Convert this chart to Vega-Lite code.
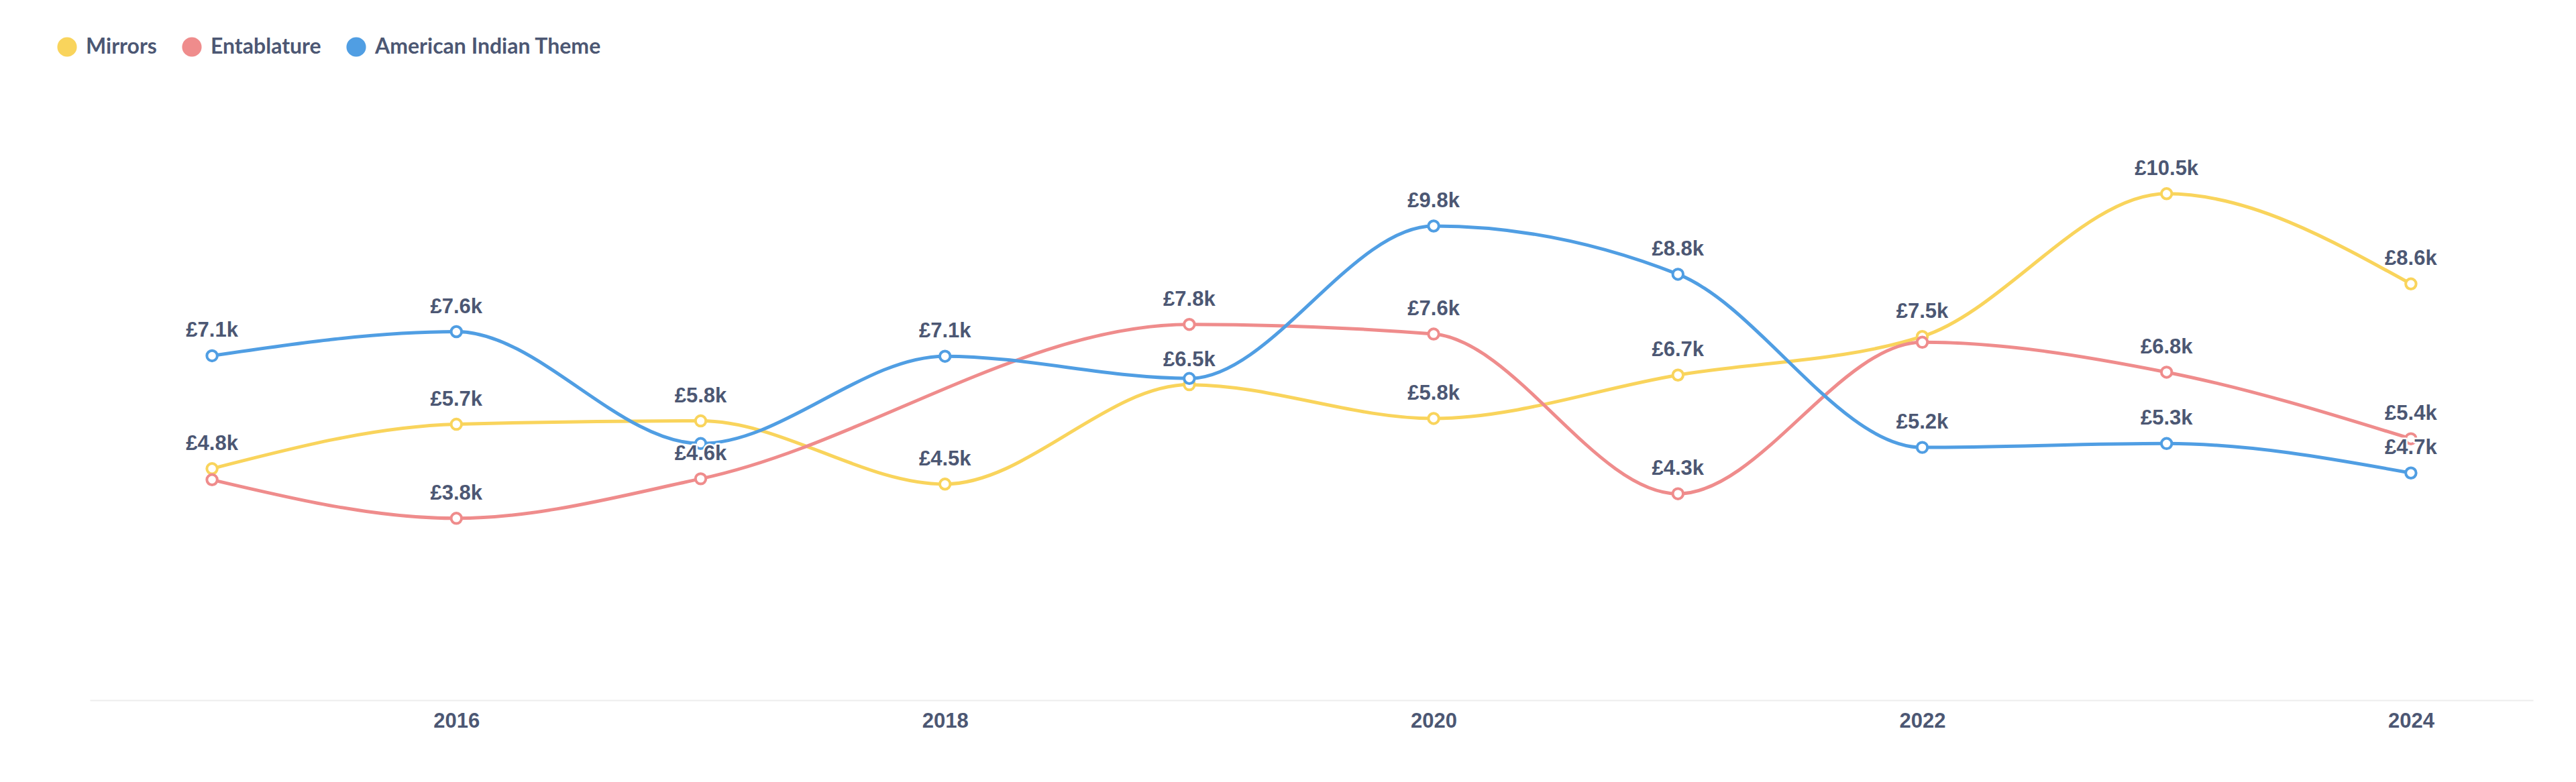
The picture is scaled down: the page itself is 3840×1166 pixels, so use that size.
{
  "$schema": "https://vega.github.io/schema/vega-lite/v6.json",
  "autosize": {"type": "none"},
  "width": 3642,
  "height": 935,
  "padding": {"left": 134, "top": 109, "right": 64, "bottom": 122},
  "background": "white",
  "config": {"view": {"stroke": null}},
  "data": {
    "values": [
      {"series": "Mirrors", "year": 2015, "value": 4800, "show": true},
      {"series": "Mirrors", "year": 2016, "value": 5720, "show": true},
      {"series": "Mirrors", "year": 2017, "value": 5790, "show": true},
      {"series": "Mirrors", "year": 2018, "value": 4480, "show": true},
      {"series": "Mirrors", "year": 2019, "value": 6540, "show": true},
      {"series": "Mirrors", "year": 2020, "value": 5840, "show": true},
      {"series": "Mirrors", "year": 2021, "value": 6740, "show": true},
      {"series": "Mirrors", "year": 2022, "value": 7540, "show": true},
      {"series": "Mirrors", "year": 2023, "value": 10500, "show": true},
      {"series": "Mirrors", "year": 2024, "value": 8630, "show": true},
      {"series": "Entablature", "year": 2015, "value": 4570, "show": false},
      {"series": "Entablature", "year": 2016, "value": 3770, "show": true},
      {"series": "Entablature", "year": 2017, "value": 4590, "show": true},
      {"series": "Entablature", "year": 2019, "value": 7790, "show": true},
      {"series": "Entablature", "year": 2020, "value": 7590, "show": true},
      {"series": "Entablature", "year": 2021, "value": 4280, "show": true},
      {"series": "Entablature", "year": 2022, "value": 7420, "show": false},
      {"series": "Entablature", "year": 2023, "value": 6800, "show": true},
      {"series": "Entablature", "year": 2024, "value": 5420, "show": true},
      {"series": "American Indian Theme", "year": 2015, "value": 7140, "show": true},
      {"series": "American Indian Theme", "year": 2016, "value": 7640, "show": true},
      {"series": "American Indian Theme", "year": 2017, "value": 5320, "show": false},
      {"series": "American Indian Theme", "year": 2018, "value": 7130, "show": true},
      {"series": "American Indian Theme", "year": 2019, "value": 6670, "show": false},
      {"series": "American Indian Theme", "year": 2020, "value": 9830, "show": true},
      {"series": "American Indian Theme", "year": 2021, "value": 8830, "show": true},
      {"series": "American Indian Theme", "year": 2022, "value": 5240, "show": true},
      {"series": "American Indian Theme", "year": 2023, "value": 5320, "show": true},
      {"series": "American Indian Theme", "year": 2024, "value": 4710, "show": true}
    ]
  },
  "encoding": {
    "x": {
      "field": "year",
      "type": "quantitative",
      "scale": {"domain": [2014.5, 2024.5], "nice": false, "zero": false},
      "axis": {
        "title": null,
        "values": [2016, 2018, 2020, 2022, 2024],
        "format": "d",
        "grid": false,
        "ticks": false,
        "domainColor": "#EDEDED",
        "domainWidth": 2,
        "labelFont": "Liberation Sans",
        "labelFontWeight": "bold",
        "labelFontSize": 31,
        "labelColor": "#4C5773",
        "labelPadding": 16,
        "labelBaseline": "top",
        "labelFlush": false
      }
    },
    "y": {
      "field": "value",
      "type": "quantitative",
      "scale": {"domain": [0, 13000], "nice": false},
      "axis": null
    },
    "color": {
      "field": "series",
      "type": "nominal",
      "scale": {
        "domain": ["Mirrors", "Entablature", "American Indian Theme"],
        "range": ["#F9D45C", "#EF8C8C", "#509EE3"]
      },
      "legend": {
        "title": null,
        "orient": "none",
        "direction": "horizontal",
        "legendX": -50,
        "legendY": -55,
        "padding": 0,
        "symbolType": "circle",
        "symbolSize": 850,
        "symbolStrokeWidth": 0,
        "labelFont": "Lato",
        "labelFontWeight": "bold",
        "labelFontSize": 32,
        "labelLimit": 0,
        "labelColor": "#4C5773",
        "labelOffset": 12,
        "columnPadding": 36,
        "encode": {
          "symbols": {
            "update": {
              "fill": {"scale": "color", "field": "value"},
              "opacity": {"value": 1}
            }
          }
        }
      }
    }
  },
  "layer": [
    {
      "mark": {"type": "line", "interpolate": "monotone", "strokeWidth": 5}
    },
    {
      "mark": {
        "type": "point",
        "shape": "circle",
        "filled": false,
        "fill": "white",
        "fillOpacity": 1,
        "opacity": 1,
        "size": 240,
        "strokeWidth": 4
      }
    },
    {
      "transform": [
        {"filter": "datum.show"},
        {"calculate": "'£' + format(datum.value / 1000, '.1f') + 'k'", "as": "label"}
      ],
      "mark": {
        "type": "text",
        "font": "Liberation Sans",
        "fontWeight": "bold",
        "fontSize": 31,
        "baseline": "alphabetic",
        "align": "center",
        "dy": -28,
        "fill": "white",
        "stroke": "white",
        "strokeWidth": 5,
        "strokeJoin": "round"
      },
      "encoding": {
        "text": {"field": "label"},
        "color": {"value": "white"}
      }
    },
    {
      "transform": [
        {"filter": "datum.show"},
        {"calculate": "'£' + format(datum.value / 1000, '.1f') + 'k'", "as": "label"}
      ],
      "mark": {
        "type": "text",
        "font": "Liberation Sans",
        "fontWeight": "bold",
        "fontSize": 31,
        "baseline": "alphabetic",
        "align": "center",
        "dy": -28
      },
      "encoding": {
        "text": {"field": "label"},
        "color": {"value": "#4C5773"}
      }
    }
  ]
}
